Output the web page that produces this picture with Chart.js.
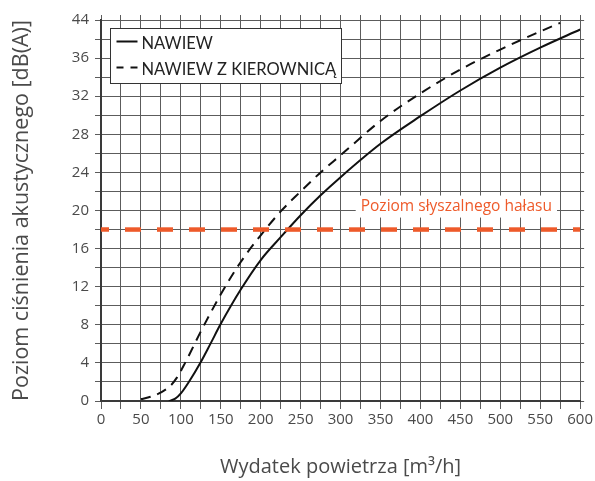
<!DOCTYPE html>
<html>
<head>
<meta charset="utf-8">
<script src="https://cdn.jsdelivr.net/npm/chart.js@4/dist/chart.umd.min.js"></script>
<style>
  html, body { margin: 0; padding: 0; background: #fff; }
  #wrap { width: 595px; height: 481px; position: relative; }
</style>
</head>
<body>
<div id="wrap"><canvas id="c" width="595" height="481"></canvas></div>
<script>
// Airflow [m³/h] and sound pressure level [dB(A)]
const seriesNames = ['NAWIEW', 'NAWIEW Z KIEROWNICĄ'];

const flowPlain  = [85, 93, 100, 110, 125, 137, 150, 175, 200, 225, 250, 275, 300, 350, 400, 450, 500, 550, 600];
const levelPlain = [0, 0.25, 0.8, 2.0, 4.1, 6.0, 8.1, 11.7, 14.8, 17.2, 19.5, 21.6, 23.5, 27.0, 29.9, 32.6, 35.0, 37.1, 39.0];

const flowGuide  = [50, 62, 75, 87, 95, 105, 125, 150, 175, 200, 225, 250, 275, 300, 350, 400, 450, 500, 550, 575];
const levelGuide = [0.2, 0.44, 0.9, 1.6, 2.45, 3.95, 7.3, 11.2, 14.6, 17.4, 19.9, 22.0, 24.0, 25.8, 29.4, 32.3, 34.8, 36.9, 38.8, 39.7];

// Audibility threshold
const thresholdLabel = 'Poziom słyszalnego hałasu';
const thresholdLevel = 18;
const thresholdSpan = [0, 600];

// Axis tick labels (major ticks only)
const xTickLabels = ['0', '50', '100', '150', '200', '250', '300', '350', '400', '450', '500', '550', '600'];
const yTickLabels = ['0', '4', '8', '12', '16', '20', '24', '28', '32', '36', '44'];

const xTitle = 'Wydatek powietrza [m³/h]';
const yTitle = 'Poziom ciśnienia akustycznego [dB(A)]';

const ORANGE = '#EE5A2A';
const GRID = '#5c5c5c';
const TEXT = '#4a4a4a';

Chart.defaults.font.family = "'Open Sans', sans-serif";

const toPoints = (xs, ys) => xs.map((x, i) => ({ x, y: ys[i] }));

// Label for the threshold line, on a white patch
const thresholdText = {
  id: 'thresholdText',
  afterDatasetsDraw(chart) {
    const { ctx, scales } = chart;
    const cx = scales.x.getPixelForValue(445);
    const cy = scales.y.getPixelForValue(thresholdLevel) - 23;
    ctx.save();
    ctx.font = "15.5px 'Open Sans'";
    const w = ctx.measureText(thresholdLabel).width;
    ctx.fillStyle = '#fff';
    ctx.fillRect(cx - w / 2 - 5, cy - 11, w + 10, 22);
    ctx.fillStyle = ORANGE;
    ctx.textAlign = 'center';
    ctx.textBaseline = 'middle';
    ctx.fillText(thresholdLabel, cx, cy);
    ctx.restore();
  }
};

// Boxed legend in the top-left corner of the plot
const boxLegend = {
  id: 'boxLegend',
  afterDatasetsDraw(chart) {
    const { ctx, chartArea } = chart;
    const x0 = chartArea.left + 9.5, y0 = chartArea.top + 8.5;
    const w = 231, h = 55;
    ctx.save();
    ctx.fillStyle = '#fff';
    ctx.fillRect(x0, y0, w, h);
    ctx.strokeStyle = '#333';
    ctx.lineWidth = 1;
    ctx.strokeRect(x0, y0, w, h);
    ctx.font = "16.5px Lato";
    ctx.textBaseline = 'middle';
    const rows = [y0 + 13, y0 + 39];
    [0, 1].forEach(i => {
      const ds = chart.data.datasets[i];
      ctx.strokeStyle = ds.borderColor;
      ctx.lineWidth = 2;
      ctx.setLineDash(i === 1 ? [7, 7] : []);
      ctx.beginPath();
      ctx.moveTo(x0 + 6, rows[i]);
      ctx.lineTo(x0 + 27, rows[i]);
      ctx.stroke();
      ctx.setLineDash([]);
      ctx.fillStyle = '#222';
      ctx.fillText(ds.label, x0 + 31, rows[i] + 2);
    });
    ctx.restore();
  }
};

const majorX = v => v % 50 === 0;
const majorY = v => v % 4 === 0;

new Chart(document.getElementById('c'), {
  type: 'line',
  data: {
    datasets: [
      {
        label: seriesNames[0],
        data: toPoints(flowPlain, levelPlain),
        borderColor: '#111',
        borderWidth: 2,
        pointRadius: 0,
        cubicInterpolationMode: 'monotone',
        order: 2
      },
      {
        label: seriesNames[1],
        data: toPoints(flowGuide, levelGuide),
        borderColor: '#111',
        borderWidth: 2,
        borderDash: [10, 7],
        pointRadius: 0,
        cubicInterpolationMode: 'monotone',
        order: 3
      },
      {
        label: thresholdLabel,
        data: thresholdSpan.map(x => ({ x, y: thresholdLevel })),
        borderColor: ORANGE,
        borderWidth: 4.5,
        borderDash: [16, 16],
        borderDashOffset: 8,
        pointRadius: 0,
        order: 1
      }
    ]
  },
  options: {
    responsive: false,
    animation: false,
    layout: { padding: 0 },
    plugins: {
      legend: { display: false },
      tooltip: { enabled: false }
    },
    scales: {
      x: {
        type: 'linear',
        position: 'bottom',
        min: 0, max: 600,
        afterFit: s => { s.height = 80; },
        border: { display: true, color: '#3a3a3a', width: 2 },
        grid: { color: GRID, lineWidth: 1, tickLength: 8, tickColor: GRID },
        ticks: {
          stepSize: 25, autoSkip: false, maxRotation: 0, padding: 2,
          color: TEXT, font: { size: 15 },
          callback: v => majorX(v) ? xTickLabels[v / 50] : ''
        },
        title: {
          display: true, text: xTitle, color: TEXT,
          font: { size: 20 }, padding: { top: 0, bottom: 2 }
        }
      },
      x2: {
        type: 'linear',
        position: 'top',
        min: 0, max: 600,
        afterFit: s => { s.height = 20; },
        border: { display: false },
        grid: { drawOnChartArea: false, tickLength: 5, color: GRID },
        ticks: { stepSize: 25, autoSkip: false, display: false }
      },
      y: {
        type: 'linear',
        position: 'left',
        min: 0, max: 40,
        afterFit: s => { s.width = 101; },
        border: { display: true, color: '#3a3a3a', width: 2 },
        grid: { color: GRID, lineWidth: 1, tickLength: 6, tickColor: GRID },
        ticks: {
          stepSize: 2, autoSkip: false, padding: 6,
          color: TEXT, font: { size: 15 },
          callback: v => majorY(v) ? yTickLabels[v / 4] : ''
        },
        title: {
          display: true, text: yTitle, color: TEXT,
          font: { size: 21.5 }, padding: { top: 9, bottom: 0 }
        }
      },
      y2: {
        type: 'linear',
        position: 'right',
        min: 0, max: 40,
        afterFit: s => { s.width = 13; },
        border: { display: false },
        grid: { drawOnChartArea: false, tickLength: 4, color: GRID },
        ticks: { stepSize: 2, autoSkip: false, display: false }
      }
    }
  },
  plugins: [thresholdText, boxLegend]
});
</script>
</body>
</html>
